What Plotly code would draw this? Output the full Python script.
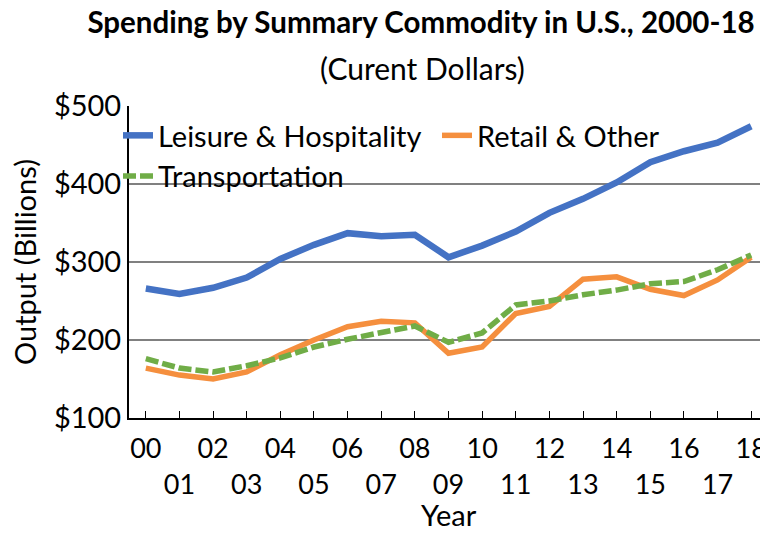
import plotly.graph_objects as go

years = ["00","01","02","03","04","05","06","07","08","09","10","11","12","13","14","15","16","17","18"]
leisure = [266, 259, 267, 280, 304, 322, 337, 333, 335, 306, 321, 339, 363, 381, 402, 428, 442, 453, 474]
retail = [164, 155, 150, 159, 181, 200, 217, 224, 222, 183, 191, 234, 243, 278, 281, 265, 257, 277, 306]
transport = [176, 164, 159, 167, 177, 191, 201, 209, 218, 197, 209, 245, 250, 258, 264, 272, 275, 290, 309]
yticks = [100, 200, 300, 400, 500]
ytext = ["$100", "$200", "$300", "$400", "$500"]

FONT = "Lato"
OFF = 8                     # page body margin offset
W, H = 768 - OFF, 535 - 2 * OFF
L, T, B = 129 - OFF, 106 - OFF, H - (418 - OFF)
PW, PH = W - L, H - T - B   # plot area size


def px_x(page_x):
    return (page_x - OFF - L) / PW


def px_y(page_y):
    return (H - B - (page_y - OFF)) / PH


x = list(range(len(years)))
ticktext = [y if i % 2 == 0 else "<br>" + y for i, y in enumerate(years)]

fig = go.Figure()
fig.add_trace(go.Scatter(x=x, y=leisure, mode="lines", name="Leisure & Hospitality",
                         line=dict(color="#4472C4", width=6.5)))
fig.add_trace(go.Scatter(x=x, y=retail, mode="lines", name="Retail & Other",
                         line=dict(color="#F58F3E", width=5.5)))
fig.add_trace(go.Scatter(x=x, y=transport, mode="lines", name="Transportation",
                         line=dict(color="#70AD47", width=5.5, dash="13px,4px")))

fig.update_layout(
    width=W, height=H,
    margin=dict(l=L, r=0, t=T, b=B, autoexpand=False),
    paper_bgcolor="white", plot_bgcolor="white",
    font=dict(family=FONT, size=29, color="black"),
    title=dict(text="<b>Spending by Summary Commodity in U.S., 2000-18</b>",
               x=(421 - OFF) / W, xref="container", xanchor="center",
               y=1 - (23 - OFF) / H, yref="container", yanchor="middle", automargin=False,
               font=dict(family=FONT, size=29.5, color="black")),
    showlegend=True,
    legend=dict(orientation="h", x=(118 - OFF) / W, xref="container", xanchor="left",
                y=px_y(110), yanchor="top",
                bgcolor="rgba(0,0,0,0)", font=dict(size=29, color="black"),
                entrywidth=274, entrywidthmode="pixels",
                tracegroupgap=0),
    xaxis=dict(range=[-0.5, 18.5], tickmode="array", tickvals=x, ticktext=ticktext,
               tickangle=0,
               showgrid=False, zeroline=False, showline=True, linecolor="black", linewidth=2,
               ticks="inside", ticklen=7, tickcolor="black", tickwidth=1,
               tickfont=dict(size=27), fixedrange=True, automargin=False,
               ticklabeloverflow="allow", ticklabelstandoff=6),
    yaxis=dict(range=[100, 500], tickmode="array", tickvals=yticks, ticktext=ytext,
               showgrid=True, gridcolor="#808080", gridwidth=1.5, zeroline=False,
               showline=True, linecolor="black", linewidth=2, ticks="",
               tickfont=dict(size=29), fixedrange=True, automargin=False),
    annotations=[
        dict(text="(Curent Dollars)", xref="paper", yref="paper",
             x=px_x(422), y=px_y(68), xanchor="center", yanchor="middle",
             showarrow=False, font=dict(size=30, color="black")),
        dict(text="Output (Billions)", xref="paper", yref="paper", textangle=-90,
             x=px_x(24), y=px_y(262), xanchor="center", yanchor="middle",
             showarrow=False, font=dict(size=29, color="black")),
        dict(text="Year", xref="paper", yref="paper",
             x=px_x(449), y=px_y(514), xanchor="center", yanchor="middle",
             showarrow=False, font=dict(size=29, color="black")),
    ],
)

fig.write_html("out.html", config={"displayModeBar": False})
